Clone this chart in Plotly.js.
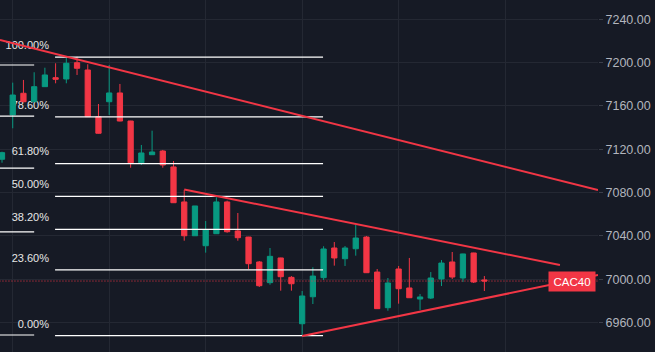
<!DOCTYPE html>
<html>
<head>
<meta charset="utf-8">
<script src="https://cdn.plot.ly/plotly-3.0.1.min.js"></script>
<style>
html,body{margin:0;padding:0;background:#161a25;}
#chart{width:655px;height:352px;}
</style>
</head>
<body>
<div id="chart"></div>
<script>
// ---- Candle data (CAC40) ----
const openP  = [7110.8,7151.7,7171.7,7163.9,7177.8,7186.1,7184.9,7199.9,7193.2,7150.1,7163.9,7172.0,7146.1,7107.6,7115.0,7118.4,7103.7,7071.4,7040.2,7031.0,7042.1,7071.4,7044.6,7039.0,7016.0,6996.9,7019.7,7001.8,6959.0,6983.9,7001.5,7028.9,7019.0,7028.2,7039.0,7006.7,6973.8,7009.5,6992.0,6981.8,6982.7,7000.3,7016.0,7001.2,7024.3,6999.4];
const highP  = [7117.8,7181.5,7184.0,7191.1,7195.3,7199.4,7204.9,7205.5,7198.5,7161.8,7197.8,7180.3,7146.3,7124.0,7137.2,7119.4,7109.2,7082.4,7067.7,7053.8,7075.7,7072.6,7061.2,7039.2,7016.9,7028.9,7019.9,7003.0,6989.2,7011.1,7030.5,7034.4,7030.7,7050.1,7040.0,7009.5,7001.2,7012.3,7019.7,6986.4,7006.7,7017.8,7025.2,7023.6,7024.5,7003.0];
const lowP   = [7107.6,7139.4,7163.5,7163.5,7177.5,7180.9,7180.9,7188.6,7149.8,7134.5,7151.7,7145.8,7103.0,7105.5,7114.8,7103.0,7070.4,7035.6,7040.2,7024.6,7041.9,7043.0,7035.6,7009.5,6992.9,6995.0,6989.5,6989.5,6947.9,6977.2,6999.4,7012.6,7012.3,7021.8,7005.8,6972.6,6971.0,6977.5,6982.8,6971.7,6981.8,6993.8,7000.3,6997.5,6996.6,6989.2];
const closeP = [7116.9,7170.1,7163.9,7177.8,7188.6,7184.6,7199.4,7194.8,7150.1,7134.8,7172.0,7146.1,7107.6,7116.6,7117.5,7105.5,7070.7,7040.2,7067.7,7045.5,7071.4,7043.9,7038.4,7014.4,6994.1,7021.2,7002.4,6995.9,6984.6,7003.0,7028.0,7019.7,7028.9,7038.1,7006.1,6972.9,6996.6,6991.3,6983.0,6983.7,7001.2,7015.0,7002.1,7023.4,6997.5,6998.4];
const lastPrice = 6998.4;
const symbol = "CAC40";

// ---- Fibonacci retracement ----
const fibLow = 6948;
const fibHigh = 7205;
const fibLevels = [0, 0.236, 0.382, 0.5, 0.618, 0.786, 1];
const fibLabels = ["0.00%", "23.60%", "38.20%", "50.00%", "61.80%", "78.60%", "100.00%"];
const fibStart = 4.95, fibEnd = 29.95;
// second (left) set of short level lines
const sideLevels = [7197.8, 7150.7, 7102.7, 7043.7, 6948.6];

// ---- Trend lines (index, price) ----
const upperLongX = [-0.19, 55.6], upperLongY = [7220.9, 7082.4];
const triTopX = [17, 52.05],      triTopY = [7082.8, 7013.2];
const triBotX = [28, 55.6],       triBotY = [6947.7, 7004.0];

// ---- Axis ----
const yTicks = [6960, 7000, 7040, 7080, 7120, 7160, 7200, 7240];
const xGrid = [1, 10, 19, 28, 37, 47];

const RED = '#F23645', GREEN = '#089981', BG = '#161a25', GRID = '#242833';
const FONT = 'Liberation Sans, Arial, sans-serif';
const idx = openP.map((_, i) => i);
const xMin = -0.187, xMax = 55.6;
const yMin = 6932.9, yMax = 7257.8;

const fibPrices = fibLevels.map(l => fibLow + (fibHigh - fibLow) * l);

const traces = [];
// fib labels on the base subplot (drawn under candles)
traces.push({
  type: 'scatter', mode: 'text', xaxis: 'x', yaxis: 'y',
  x: fibPrices.map(() => 4.38),
  y: fibPrices.map(p => p + 10),
  text: fibLabels, textposition: 'middle left',
  textfont: {family: FONT, size: 11, color: '#e6e6e6'},
  hoverinfo: 'skip', cliponaxis: false
});
// candles (overlay subplot)
traces.push({
  type: 'candlestick', xaxis: 'x2', yaxis: 'y2',
  x: idx, open: openP, high: highP, low: lowP, close: closeP,
  increasing: {line: {color: GREEN, width: 1}, fillcolor: GREEN},
  decreasing: {line: {color: RED, width: 1}, fillcolor: RED},
  whiskerwidth: 0, hoverinfo: 'skip'
});
// fib lines
fibPrices.forEach(p => traces.push({
  type: 'scatter', mode: 'lines', xaxis: 'x2', yaxis: 'y2', x: [fibStart, fibEnd], y: [p, p],
  line: {color: '#ffffff', width: 1.2}, hoverinfo: 'skip'
}));
sideLevels.forEach(p => traces.push({
  type: 'scatter', mode: 'lines', xaxis: 'x2', yaxis: 'y2', x: [xMin - 0.05, 3.0], y: [p, p],
  line: {color: '#ffffff', width: 1.2}, hoverinfo: 'skip'
}));
// last price dotted line
traces.push({
  type: 'scatter', mode: 'lines', xaxis: 'x2', yaxis: 'y2', x: [xMin - 0.05, xMax], y: [lastPrice, lastPrice],
  line: {color: RED, width: 1, dash: '1px,2px'}, hoverinfo: 'skip'
});
// trend lines
[[upperLongX, upperLongY], [triTopX, triTopY], [triBotX, triBotY]].forEach(([xs, ys]) => traces.push({
  type: 'scatter', mode: 'lines', xaxis: 'x2', yaxis: 'y2', x: xs, y: ys,
  line: {color: RED, width: 2}, hoverinfo: 'skip'
}));

const hiddenX = {range: [xMin, xMax], showticklabels: false, ticks: '', showgrid: false,
  zeroline: false, showline: false, rangeslider: {visible: false}, fixedrange: true};

const layout = {
  width: 655, height: 352,
  margin: {l: 0, r: 57, t: 0, b: 0, pad: 0},
  paper_bgcolor: BG, plot_bgcolor: BG,
  showlegend: false, hovermode: false,
  xaxis: {
    range: [xMin, xMax], tickmode: 'array', tickvals: xGrid,
    showticklabels: false, ticks: '', showgrid: true, gridcolor: GRID, gridwidth: 1,
    zeroline: false, showline: false, rangeslider: {visible: false}, fixedrange: true
  },
  xaxis2: Object.assign({overlaying: 'x', anchor: 'y2'}, hiddenX),
  yaxis: {
    side: 'right', range: [yMin, yMax], tickmode: 'array', tickvals: yTicks,
    tickformat: '.2f', ticks: 'outside', ticklen: 4, tickcolor: '#3a3e4a',
    tickfont: {family: FONT, size: 12.5, color: '#b2b5be'},
    showgrid: true, gridcolor: GRID, gridwidth: 1, zeroline: false, showline: false, fixedrange: true
  },
  yaxis2: {
    overlaying: 'y', anchor: 'x2', side: 'right', range: [yMin, yMax],
    showticklabels: false, ticks: '', showgrid: false, zeroline: false, showline: false, fixedrange: true
  },
  annotations: [{
    xref: 'paper', yref: 'y', x: 1, y: lastPrice, xanchor: 'right', yanchor: 'middle',
    xshift: -2, text: symbol, showarrow: false, bgcolor: RED, width: 44, height: 17,
    font: {family: FONT, size: 11.5, color: '#ffffff'}
  }]
};

Plotly.newPlot('chart', traces, layout, {displayModeBar: false, staticPlot: true});
</script>
</body>
</html>
